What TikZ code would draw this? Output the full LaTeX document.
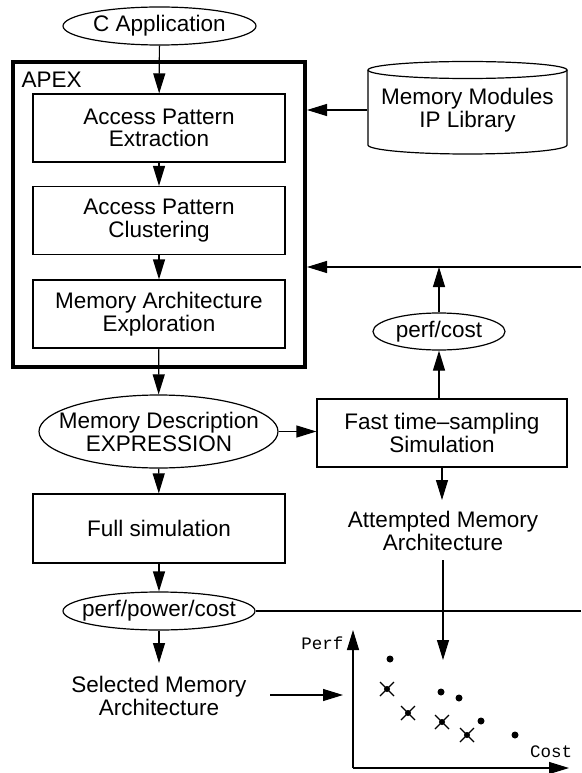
\documentclass[tikz,border=0pt]{standalone}
\usepackage{fontspec}
\setmainfont{Liberation Sans}
\setmonofont{Liberation Mono}
\usetikzlibrary{arrows.meta,shapes.geometric}
\begin{document}
\begin{tikzpicture}[x=1pt,y=-1pt,line width=1.2pt,
  arr/.style={-{Triangle[length=20pt,width=12pt]}},
  txt/.style={font=\fontsize{22.5}{22.5}\selectfont},
  box/.style={draw,rectangle,minimum width=252pt,minimum height=68pt,align=center,inner sep=0pt,txt},
  ell/.style={draw,ellipse,inner sep=0pt},
  lbl/.style={align=center,inner sep=0pt,txt},
  mono/.style={inner sep=0pt,font=\fontsize{17.5}{17.5}\ttfamily},
  dot/.style={fill,circle,inner sep=0pt,minimum size=7pt}]
\useasboundingbox (0,0) rectangle (581,773);

% APEX frame
\node[draw,line width=4pt,rectangle,minimum width=292pt,minimum height=305pt,inner sep=0pt] (apex) at (159,214.5) {};
\node[lbl,anchor=west] (apexlbl) at (21,80) {APEX};

\node[ell,minimum width=193pt,minimum height=38pt] (capp) at (159.5,26) {};
\node[lbl] (cappT) at (capp) {C Application};
\node[box] (ext) at (159,128) {Access Pattern\\Extraction};
\node[box] (clu) at (159,220.5) {Access Pattern\\Clustering};
\node[box] (mae) at (159,314) {Memory Architecture\\Exploration};
\node[ell,minimum width=239pt,minimum height=73pt] (mde) at (158.5,431.5) {};
\node[lbl] (mdeT) at (159,432) {Memory Description\\EXPRESSION};
\node[box,minimum height=69pt] (full) at (159,528.5) {Full simulation};
\node[ell,minimum width=192pt,minimum height=38pt] (ppc) at (159,611) {};
\node[lbl] (ppcT) at (ppc) {perf/power/cost};
\node[lbl] (sel) at (159,696) {Selected Memory\\Architecture};

% right side
\draw (368,70) -- (368,145) arc[start angle=180,end angle=360,x radius=99.5pt,y radius=9pt] -- (567,70);
\draw (467.5,70) ellipse[x radius=99.5pt,y radius=8.5pt];
\node[lbl,minimum width=199pt] (cyl) at (467.5,110) {Memory Modules\\IP Library};

\node[ell,minimum width=132pt,minimum height=37pt] (pc) at (439,331.5) {};
\node[lbl] (pcT) at (pc) {perf/cost};
\node[box,minimum width=250pt] (fast) at (442,433) {Fast time–sampling\\Simulation};
\node[lbl] (att) at (443,531) {Attempted Memory\\Architecture};

\coordinate (fbR) at (581,267);
\coordinate (ppcR) at (581,611);
\coordinate (selR) at (270,695);
\coordinate (plotIn) at (343,695);
\coordinate (attS) at (443,560);
\coordinate (plotTop) at (443,660);

% connectors
\draw[arr] (capp) -- (ext);
\draw[arr] (ext) -- (clu);
\draw[arr] (clu) -- (mae);
\draw[arr] (mae) -- (mde);
\draw[arr] (mde) -- (full);
\draw[arr] (full) -- (ppc);
\draw[arr] (ppc) -- (sel.north |- 0,663);
\draw[arr] (cyl.west) -- (cyl.west -| apex.east);
\draw[arr] (fbR) -- (fbR -| apex.east);
\draw[arr] (pc.north) -- (pc.north |- fbR);
\draw[arr] (fast.north -| pc.south) -- (pc.south);
\draw[arr] (mde.east) -- (mde.east -| fast.west);
\draw[arr] (fast.south) -- (fast.south |- 0,500);
\draw (ppc.east) -- (ppcR);
\draw[arr] (selR) -- (plotIn);
\draw[arr] (attS) -- (plotTop);

% plot
\coordinate (org) at (353,768);
\coordinate (yTop) at (353,630);
\coordinate (xEnd) at (569,768);
\draw[arr] (org) -- (yTop);
\draw[arr] (org) -- (xEnd);
\node[mono,anchor=east] (perf) at (344,643) {Perf};
\node[mono] (cost) at (551,752) {Cost};

\foreach \p in {(390,659),(441,692),(459,698),(481,721),(515,735)} \node[dot] at \p {};
\foreach \p in {(387,689),(408,713),(442,722),(467,735)} {
  \node[dot,minimum size=6pt] at \p {};
  \draw[line width=1.1pt] \p +(-7,-7) -- +(7,7) \p +(-7,7) -- +(7,-7);
}
\end{tikzpicture}
\end{document}
